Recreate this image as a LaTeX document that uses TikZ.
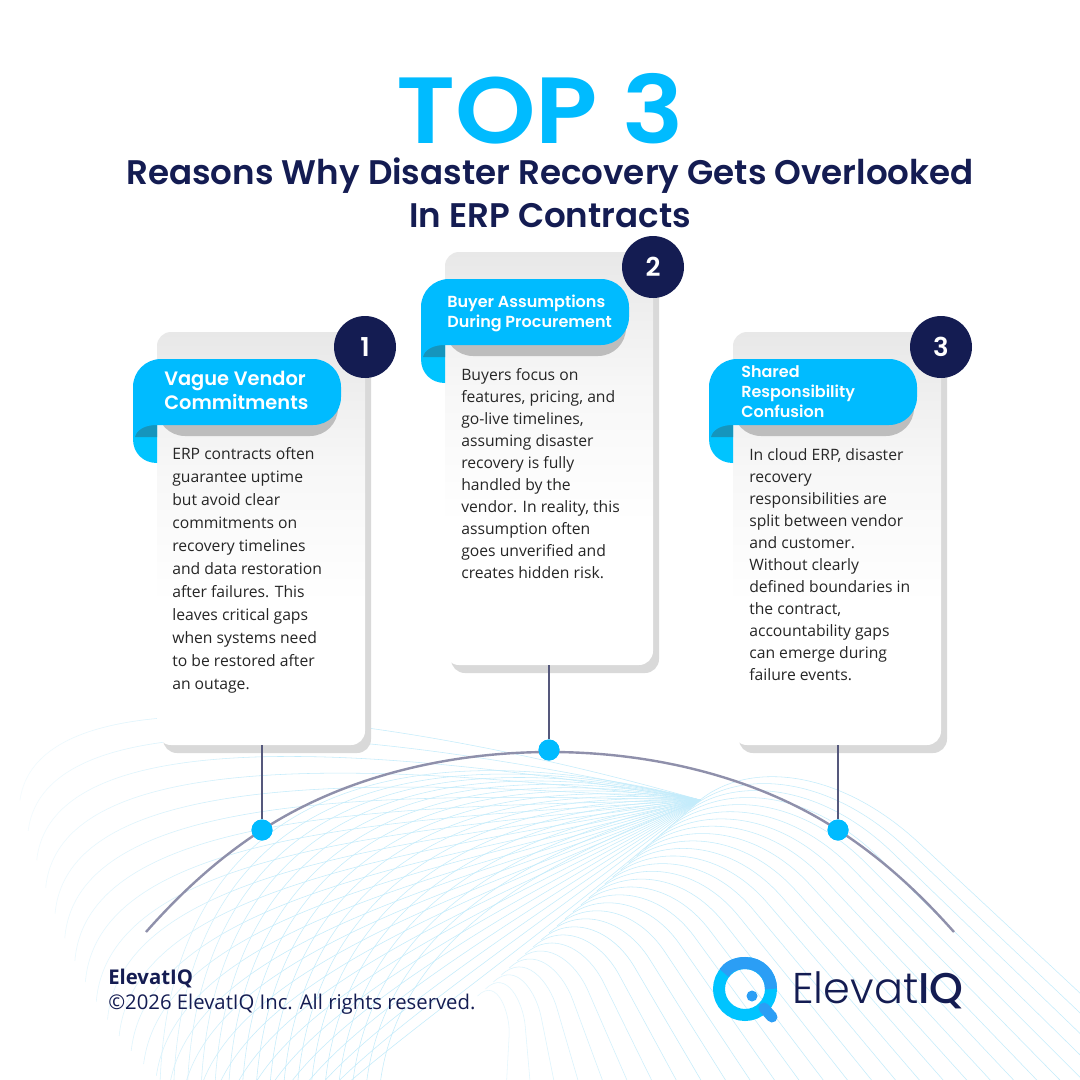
\documentclass[tikz,border=0pt]{standalone}
\usepackage{fontspec}
\setmainfont{Open Sans}
\newfontfamily\headfont{Poppins SemiBold}
\newfontfamily\titlefont{Poppins Medium}
\newfontfamily\logofont{Poppins Light}
\usepackage{xcolor}
\usetikzlibrary{positioning,fadings}
\definecolor{navy}{HTML}{141C52}
\definecolor{skyblue}{HTML}{00BBFF}
\definecolor{foldlight}{HTML}{00C4FF}
\definecolor{folddark}{HTML}{1595BD}
\definecolor{wave}{HTML}{C4ECFB}
\definecolor{arcgrey}{HTML}{8F90AB}
\definecolor{stemgrey}{HTML}{55587C}
\definecolor{shadowgrey}{HTML}{D9D9D9}
\definecolor{ribbonshadow}{HTML}{BDBDBD}
\definecolor{bodytext}{HTML}{262626}
\definecolor{logoblue}{HTML}{2B9EF5}
\pgfdeclareverticalshading{cardfade}{100bp}{color(0bp)=(white); color(42bp)=(white); color(58bp)=(black!3); color(75bp)=(black!9); color(100bp)=(black!9)}
\tikzfading[name=leftfade, left color=transparent!15, right color=transparent!100]
% weights of a blend over the wave, from #1 at t=0 over #2 at t=0.5 to #3 at t=1
\newcommand{\lag}[3]{((#1)*(1-\t)*(1-2*\t)+4*(#2)*\t*(1-\t)+(#3)*\t*(2*\t-1))}
\tikzset{
  every picture/.style = {
    x = 1pt,
    y = -1pt,
    line width = 0.6pt
  }
  ,
  card/.style = {
    rectangle,
    rounded corners = 14pt,
    shading = cardfade,
    minimum width = 208pt,
    minimum height = 413pt,
    inner sep = 0pt
  }
  ,
  card-shadow/.style = {
    rectangle,
    rounded corners = 14pt,
    fill = shadowgrey,
    minimum width = 208pt,
    minimum height = 413pt,
    inner sep = 0pt
  }
  ,
  badge/.style = {
    circle,
    fill = navy,
    text = white,
    minimum size = 62pt,
    inner sep = 0pt,
    font = \headfont\fontsize{26}{26}\selectfont
  }
  ,
  dot/.style = {
    circle,
    fill = skyblue,
    minimum size = 21pt,
    inner sep = 0pt
  }
  ,
  stem/.style = {
    draw = stemgrey,
    line width = 1.6pt
  }
  ,
  wave-line/.style = {
    wave,
    line width = 0.55pt
  }
  , % lines of the title
  title-line/.style = {
    anchor = base,
    text = navy,
    inner sep = 0pt,
    font = \headfont\fontsize{34.1}{34.1}\selectfont
  }
  , % labels of ribbons
  head-big/.style = {
    anchor = north west,
    align = left,
    text = white,
    inner sep = 0pt,
    font = \headfont\fontsize{19.4}{24}\selectfont
  }
  ,
  head-small/.style = {
    anchor = north west,
    align = left,
    text = white,
    inner sep = 0pt,
    font = \headfont\fontsize{16}{20}\selectfont
  }
  , % text of cards
  body/.style = {
    anchor = north west,
    align = left,
    text = bodytext,
    inner sep = 0pt,
    font = \fontsize{15.7}{#1}\selectfont
  }
}
% ribbon with its fold, top left corner at #1,#2
\newcommand{\foldribbon}[2]{
  \begin{scope}[shift={(#1,#2)}]
    \fill[ribbonshadow, rounded corners=28pt] (24,11) -- (205,11) -- (205,77) -- (24,77) -- cycle;
    \fill[foldlight] (0,55) -- (0,80) .. controls (0,94) and (10,104) .. (24,104) -- (24,55) -- cycle;
    \fill[folddark] (24,65) .. controls (12,65) and (4,70) .. (2,78) -- (24,78) -- cycle;
    \fill[skyblue] (0,65) [rounded corners=28pt] -- (0,0) -- (208,0) -- (208,66) [sharp corners] -- (24,66) .. controls (12,66) and (4,70) .. (0,80) -- cycle;
  \end{scope}
}
\begin{document}
\begin{tikzpicture}
  \useasboundingbox (0,0) rectangle (1080,1080);
  \fill[white] (0,0) rectangle (1080,1080);

  % wave in the background
  \begin{scope}
    \clip (0,0) rectangle (1080,1080);
    \foreach \t in {0,0.04,...,1.001} {
      \pgfmathsetmacro{\sx}{\lag{20}{150}{340}}
      \pgfmathsetmacro{\sy}{\lag{800}{1070}{1090}}
      \pgfmathsetmacro{\ax}{\lag{40}{170}{420}}
      \pgfmathsetmacro{\ay}{\lag{660}{920}{1020}}
      \pgfmathsetmacro{\bx}{\lag{420}{450}{590}}
      \pgfmathsetmacro{\by}{\lag{720}{870}{900}}
      \draw[wave-line] (\sx,\sy) .. controls (\ax,\ay) and (\bx,\by) .. (700,800);
    }
    \foreach \t in {0,0.0625,...,1.001} {
      \pgfmathsetmacro{\sx}{160+220*\t}
      \pgfmathsetmacro{\ax}{\lag{170}{290}{400}}
      \pgfmathsetmacro{\ay}{\lag{770}{840}{920}}
      \pgfmathsetmacro{\bx}{\lag{430}{490}{580}}
      \pgfmathsetmacro{\by}{\lag{730}{780}{850}}
      \draw[wave-line] (\sx,1085) .. controls (\ax,\ay) and (\bx,\by) .. (700,800);
    }
    \foreach \t in {0,0.035,...,1.001} {
      \pgfmathsetmacro{\sx}{700-227*\t}
      \pgfmathsetmacro{\sy}{800+200*\t}
      \pgfmathsetmacro{\mx}{\lag{919}{720}{500}}
      \pgfmathsetmacro{\my}{\lag{843}{925}{1040}}
      \pgfmathsetmacro{\ex}{\lag{1200}{860}{490}}
      \pgfmathsetmacro{\ey}{1105}
      \pgfmathsetmacro{\ax}{\sx+50-30*\t}
      \pgfmathsetmacro{\ay}{\sy-40+20*\t}
      \pgfmathsetmacro{\bx}{\mx-0.28*(\ex-\mx)}
      \pgfmathsetmacro{\by}{\my-0.28*(\ey-\my)}
      \pgfmathsetmacro{\op}{\t<0.7 ? 1 : 1-1.9*(\t-0.7)}
      \draw[wave-line, draw opacity=\op] (\sx,\sy) .. controls (\ax,\ay) and (\bx,\by) .. (\mx,\my) -- (\ex,\ey);
    }
    \fill[white, path fading=leftfade] (0,690) rectangle (270,1080);
  \end{scope}

  % titles
  \node at (540,143) [anchor=base, text=skyblue, inner sep=0pt, xscale=1.09, transform shape, font=\headfont\fontsize{94}{94}\selectfont] (top) {TOP 3};
  \node at (550,184) [title-line] (subone) {Reasons Why Disaster Recovery Gets Overlooked};
  \node at (550,227) [title-line] (subtwo) {In ERP Contracts};

  % cards
  \node at (267,546.5) [card-shadow] (shadowa) {};
  \node at (555,466.5) [card-shadow] (shadowb) {};
  \node at (843,546.5) [card-shadow] (shadowc) {};
  \node at (261,538.5) [card] (carda) {};
  \node at (549,458.5) [card] (cardb) {};
  \node at (837,538.5) [card] (cardc) {};

  \foldribbon{133}{359}
  \foldribbon{421}{279}
  \foldribbon{709}{359}

  \node at (365,347) [badge] (badgea) {1};
  \node at (653,267) [badge] (badgeb) {2};
  \node at (941,347) [badge] (badgec) {3};

  \node at (164,371) [head-big] (heada) {Vague Vendor\\Commitments};
  \node at (447,295) [head-small] (headb) {Buyer Assumptions\\During Procurement};
  \node at (741,365) [head-small] (headc) {Shared\\Responsibility\\Confusion};

  \node at (172,447) [body=23] (texta) {ERP contracts often\\guarantee uptime\\but avoid clear\\commitments on\\recovery timelines\\and data restoration\\after failures. This\\leaves critical gaps\\when systems need\\to be restored after\\an outage.};
  \node at (461,368) [body=22] (textb) {Buyers focus on\\features, pricing, and\\go-live timelines,\\assuming disaster\\recovery is fully\\handled by the\\vendor. In reality, this\\assumption often\\goes unverified and\\creates hidden risk.};
  \node at (749,448) [body=22] (textc) {In cloud ERP, disaster\\recovery\\responsibilities are\\split between vendor\\and customer.\\Without clearly\\defined boundaries in\\the contract,\\accountability gaps\\can emerge during\\failure events.};

  % arc and stems
  \node at (262,830) [dot] (dota) {};
  \node at (549,750) [dot] (dotb) {};
  \node at (838,830) [dot] (dotc) {};
  \coordinate (arcl) at (146,932);
  \coordinate (arcr) at (954,932);

  \draw[arcgrey, line width=2.4pt] (arcl) .. controls (185,888) and (222,856) .. (dota.center) .. controls (345,776) and (450,752) .. (550,752) .. controls (650,752) and (755,776) .. (dotc.center) .. controls (878,856) and (915,888) .. (arcr);
  \draw[stem] (carda.south -| dota) -- (dota);
  \draw[stem] (cardb.south -| dotb) -- (dotb);
  \draw[stem] (cardc.south -| dotc) -- (dotc);
  \node at (262,830) [dot] (dotatop) {};
  \node at (549,750) [dot] (dotbtop) {};
  \node at (838,830) [dot] (dotctop) {};

  % footer
  \node at (108,969) [anchor=north west, align=left, text=navy, inner sep=0pt, font=\fontsize{20.3}{25}\selectfont] (foot) {\textbf{ElevatIQ}\\©2026 ElevatIQ Inc. All rights reserved.};

  % logo
  \coordinate (logoc) at (745,989);
  \coordinate (tail) at (772,1017);
  \draw[foldlight, line width=12pt] (logoc) circle [radius=26];
  \draw[logoblue, line width=12pt] (771,989) .. controls (771,974) and (760,963) .. (745,963) .. controls (735,963) and (728,967) .. (724,973);
  \draw[logoblue, line width=11pt, line cap=round] (764,1008) -- (tail);
  \node at (752,996) [circle, fill=logoblue, minimum size=11pt, inner sep=0pt] (logodot) {};
  \node at (792,990) [anchor=west, text=navy, inner sep=0pt, font=\logofont\fontsize{43}{43}\selectfont] (logotext) {Elevat{\titlefont IQ}};
\end{tikzpicture}
\end{document}
